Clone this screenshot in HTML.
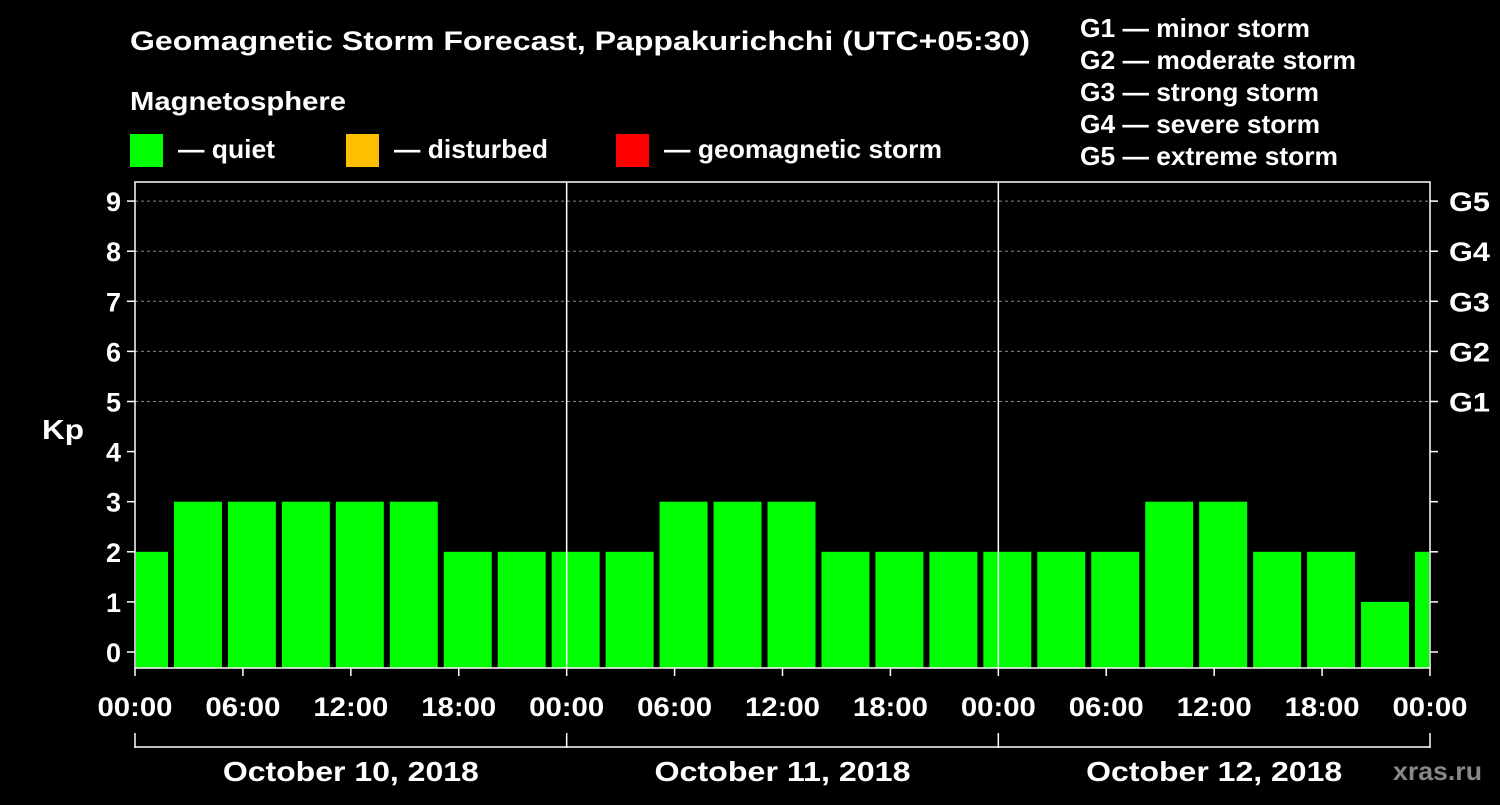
<!DOCTYPE html>
<html><head><meta charset="utf-8"><style>
body{margin:0;background:#000;width:1500px;height:800px;overflow:hidden}
svg text{font-family:"Liberation Sans",Arial,sans-serif;font-weight:bold;fill:#fff}
</style></head><body>
<svg id="chart" width="1500" height="800" viewBox="0 0 1500 800">
<rect width="1500" height="800" fill="#000"/>
<text x="130" y="50" font-size="27" textLength="900" lengthAdjust="spacingAndGlyphs">Geomagnetic Storm Forecast, Pappakurichchi (UTC+05:30)</text>
<text x="130" y="110" font-size="26" textLength="216" lengthAdjust="spacingAndGlyphs">Magnetosphere</text>
<g><rect x="130" y="134" width="33" height="33" fill="#00ff00"/><text x="178" y="158" font-size="26" textLength="97" lengthAdjust="spacingAndGlyphs">— quiet</text></g>
<g><rect x="346" y="134" width="33" height="33" fill="#ffbf00"/><text x="394" y="158" font-size="26" textLength="154" lengthAdjust="spacingAndGlyphs">— disturbed</text></g>
<g><rect x="616" y="134" width="33" height="33" fill="#ff0000"/><text x="664" y="158" font-size="26" textLength="278" lengthAdjust="spacingAndGlyphs">— geomagnetic storm</text></g>
<g font-size="26">
<text x="1080" y="37" textLength="230" lengthAdjust="spacingAndGlyphs">G1 — minor storm</text>
<text x="1080" y="69" textLength="276" lengthAdjust="spacingAndGlyphs">G2 — moderate storm</text>
<text x="1080" y="101" textLength="239" lengthAdjust="spacingAndGlyphs">G3 — strong storm</text>
<text x="1080" y="133" textLength="240" lengthAdjust="spacingAndGlyphs">G4 — severe storm</text>
<text x="1080" y="165" textLength="258" lengthAdjust="spacingAndGlyphs">G5 — extreme storm</text>
</g>
<text x="42" y="439" font-size="28" textLength="42" lengthAdjust="spacingAndGlyphs">Kp</text>
<text x="1393" y="780" font-size="26" textLength="89" lengthAdjust="spacingAndGlyphs" style="fill:#888">xras.ru</text>
<g id="plot"></g>
</svg>
<script>
const kpValues=[2,3,3,3,3,3,2,2,2,2,3,3,3,2,2,2,2,2,2,3,3,2,2,1,2];
const firstBarHour=-1;
const intervalHours=3;
const yTicks=[0,1,2,3,4,5,6,7,8,9];
const gLabels=["G1","G2","G3","G4","G5"];
const gLevels=[5,6,7,8,9];
const xTickLabels=["00:00","06:00","12:00","18:00","00:00","06:00","12:00","18:00","00:00","06:00","12:00","18:00","00:00"];
const dayLabels=["October 10, 2018","October 11, 2018","October 12, 2018"];

const L=135,R=1430,T=182,B=668;
const xH=h=>L+h*(R-L)/72;
const yK=k=>652-k*50.1;
const ns="http://www.w3.org/2000/svg";
const g=document.getElementById('plot');
function el(t,a){const e=document.createElementNS(ns,t);for(const k in a)e.setAttribute(k,a[k]);g.appendChild(e);return e;}

kpValues.forEach((v,i)=>{
  const h0=firstBarHour+i*intervalHours;
  let x0=xH(h0)+3,x1=xH(h0+intervalHours)-3;
  x0=Math.max(x0,L+1);x1=Math.min(x1,R-1);
  const c=v>=5?'#ff0000':(v>=4?'#ffbf00':'#00ff00');
  const r=el('rect',{x:x0,y:yK(v),width:x1-x0,height:B-yK(v),fill:c});
  
  
});
gLevels.forEach(k=>{
  const l=el('line',{x1:L,x2:R,y1:yK(k),y2:yK(k),stroke:'#888','stroke-dasharray':'3,3','stroke-width':1});
  
  
});
[24,48].forEach(h=>{
  const l=el('line',{x1:xH(h),x2:xH(h),y1:T,y2:B,stroke:'#fff','stroke-width':1.5});
  
  
});
const f=el('rect',{x:L,y:T,width:R-L,height:B-T,fill:'none',stroke:'#fff','stroke-width':1.5});


yTicks.forEach(k=>{
  el('line',{x1:L-8,x2:L,y1:yK(k),y2:yK(k),stroke:'#fff','stroke-width':1.5});
  el('line',{x1:R,x2:R+8,y1:yK(k),y2:yK(k),stroke:'#fff','stroke-width':1.5});
  const t=el('text',{x:L-14,y:yK(k)+10,'font-size':27,'text-anchor':'end'});t.textContent=k;
  
  
});
gLabels.forEach((s,i)=>{
  const t=el('text',{x:1449,y:yK(gLevels[i])+10,'font-size':27,textLength:41,lengthAdjust:'spacingAndGlyphs'});t.textContent=s;
  
  
});
xTickLabels.forEach((s,i)=>{
  const x=xH(i*6);
  el('line',{x1:x,x2:x,y1:B,y2:B+8,stroke:'#fff','stroke-width':1.5});
  const t=el('text',{x:x-37.5,y:716,'font-size':27,textLength:75,lengthAdjust:'spacingAndGlyphs'});t.textContent=s;
  
  
});
el('line',{x1:L,x2:R,y1:747,y2:747,stroke:'#fff','stroke-width':1.5});
[0,24,48,72].forEach(h=>el('line',{x1:xH(h),x2:xH(h),y1:733,y2:748,stroke:'#fff','stroke-width':1.5}));
dayLabels.forEach((s,i)=>{
  const t=el('text',{x:xH(i*24+12)-128,y:781,'font-size':28,textLength:256,lengthAdjust:'spacingAndGlyphs'});t.textContent=s;
  
  
});
</script>
</body></html>
